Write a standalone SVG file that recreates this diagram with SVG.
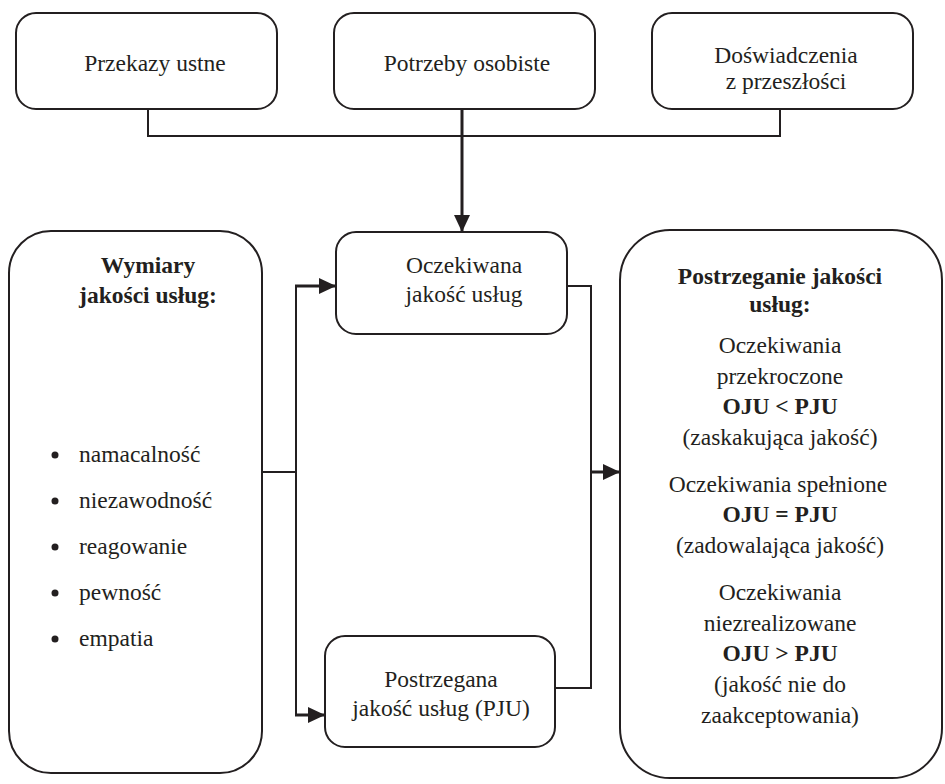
<svg xmlns="http://www.w3.org/2000/svg" width="945" height="784" viewBox="0 0 945 784">
<style>
.box{fill:#fff;stroke:#231f20;stroke-width:2}
text{font-family:'Liberation Serif','Times New Roman',Tinos,'DejaVu Serif',serif;font-size:23.5px;fill:#231f20}
.t{text-anchor:middle}
.b{font-weight:bold}
.ln{fill:none;stroke:#231f20;stroke-width:2}
.thk{fill:none;stroke:#231f20;stroke-width:3}
.dot{fill:#231f20}
</style>
<defs>
<marker id="ah" markerWidth="17" markerHeight="16" refX="17" refY="8" orient="auto" markerUnits="userSpaceOnUse">
<path d="M0,0 L17,8 L0,16 Z" fill="#231f20"/>
</marker>
</defs>
<g id="connectors">
<polyline class="ln" points="148,109 148,136 780,136 780,109"/>
<line class="thk" x1="462" y1="109" x2="462" y2="232" marker-end="url(#ah)"/>
<line class="ln" x1="262" y1="472" x2="296" y2="472"/>
<line class="ln" x1="296" y1="286" x2="296" y2="715"/>
<line class="thk" x1="295" y1="286" x2="336" y2="286" marker-end="url(#ah)"/>
<line class="thk" x1="295" y1="715" x2="325" y2="715" marker-end="url(#ah)"/>
<polyline class="ln" points="567,286 591,286 591,688 555,688"/>
<line class="thk" x1="591" y1="472" x2="620" y2="472" marker-end="url(#ah)"/>
</g>
<g id="n1">
<rect class="box" x="16" y="13" width="261" height="96" rx="20"/>
<text class="t" x="155" y="71">Przekazy ustne</text>
</g>
<g id="n2">
<rect class="box" x="334" y="13" width="261" height="96" rx="20"/>
<text class="t" x="467" y="71">Potrzeby osobiste</text>
</g>
<g id="n3">
<rect class="box" x="652" y="13" width="261" height="96" rx="20"/>
<text class="t" x="786" y="63">Doświadczenia</text>
<text class="t" x="786" y="89">z przeszłości</text>
</g>
<g id="n4">
<rect class="box" x="9" y="231" width="253" height="542" rx="42"/>
<text class="t b" x="148" y="273">Wymiary</text>
<text class="t b" x="148" y="303">jakości usług:</text>
<circle class="dot" cx="55" cy="455" r="3.5"/>
<text x="79" y="462">namacalność</text>
<circle class="dot" cx="55" cy="501" r="3.5"/>
<text x="79" y="508">niezawodność</text>
<circle class="dot" cx="55" cy="547" r="3.5"/>
<text x="79" y="554">reagowanie</text>
<circle class="dot" cx="55" cy="593" r="3.5"/>
<text x="79" y="600">pewność</text>
<circle class="dot" cx="55" cy="639" r="3.5"/>
<text x="79" y="646">empatia</text>
</g>
<g id="n5">
<rect class="box" x="336" y="232" width="231" height="102" rx="20"/>
<text class="t" x="464" y="273">Oczekiwana</text>
<text class="t" x="464" y="302">jakość usług</text>
</g>
<g id="n6">
<rect class="box" x="325" y="636" width="230" height="111" rx="20"/>
<text class="t" x="441" y="687">Postrzegana</text>
<text class="t" x="441" y="716">jakość usług (PJU)</text>
</g>
<g id="n7">
<rect class="box" x="620" y="230" width="322" height="548" rx="50"/>
<text class="t b" x="780" y="284">Postrzeganie jakości</text>
<text class="t b" x="780" y="312">usług:</text>
<text class="t" x="780" y="353">Oczekiwania</text>
<text class="t" x="780" y="384">przekroczone</text>
<text class="t b" x="780" y="414">OJU &lt; PJU</text>
<text class="t" x="780" y="445">(zaskakująca jakość)</text>
<text class="t" x="778" y="492">Oczekiwania spełnione</text>
<text class="t b" x="780" y="522">OJU = PJU</text>
<text class="t" x="780" y="553">(zadowalająca jakość)</text>
<text class="t" x="780" y="600">Oczekiwania</text>
<text class="t" x="780" y="631">niezrealizowane</text>
<text class="t b" x="780" y="661">OJU &gt; PJU</text>
<text class="t" x="780" y="692">(jakość nie do</text>
<text class="t" x="780" y="723">zaakceptowania)</text>
</g>
</svg>
